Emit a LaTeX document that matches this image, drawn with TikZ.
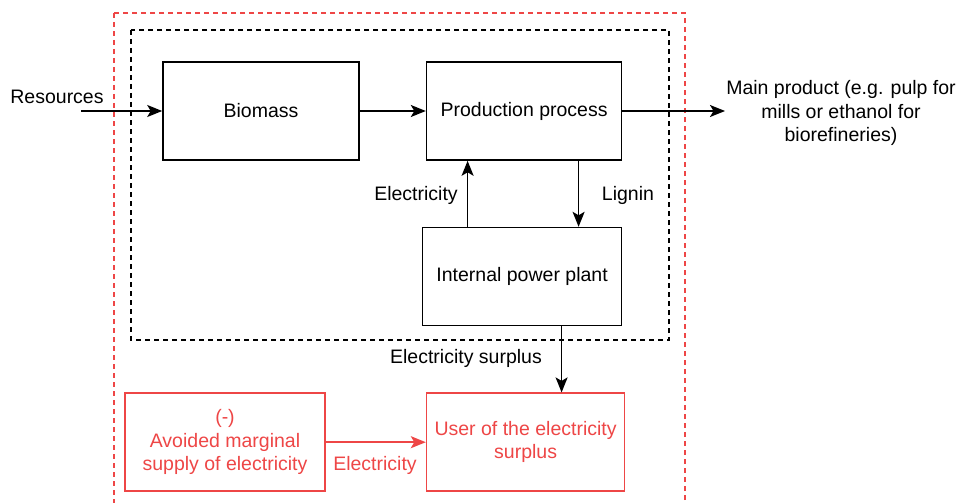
\documentclass[tikz,border=0pt]{standalone}
\usepackage{fontspec}
\setmainfont{Liberation Sans}
\usetikzlibrary{arrows.meta,positioning,calc}
\definecolor{sysRed}{RGB}{238,70,70}
\definecolor{sysBlack}{RGB}{0,0,0}
\tikzset{
  box/.style={draw=sysBlack, line width=1.6pt, fill=white, align=center, inner sep=2pt,
              minimum width=196pt, minimum height=98pt, font=\fontsize{19.5}{23.5}\selectfont},
  redbox/.style={box, draw=sysRed, text=sysRed},
  lbl/.style={align=center, inner sep=1pt, font=\fontsize{19.5}{23.5}\selectfont},
  redlbl/.style={lbl, text=sysRed},
  arrow/.style={-{Stealth[length=15pt,width=12pt,inset=3.5pt]}, line width=1.6pt, draw=sysBlack},
  redarrow/.style={arrow, draw=sysRed, fill=sysRed},
  border/.style={dash pattern=on 5pt off 4pt, line width=1.5pt}
}
\begin{document}
\begin{tikzpicture}[x=1pt, y=1pt]
\useasboundingbox (0,0) rectangle (967,-503);
% system borders
\draw[border, draw=sysRed] (114,-13) rectangle (685,-520);
\draw[border, draw=sysBlack] (131,-30) rectangle (669,-340);
% process chain
\node[box] (biomass) at (261,-111) {Biomass};
\node[box, right=66pt of biomass, minimum width=195pt] (prod) {Production process};
\node[box, below=66pt of prod, xshift=-2pt, minimum width=199pt] (power) {Internal power plant};
\node[redbox, below=66pt of power, xshift=3.5pt, minimum width=198pt] (user) {User of the electricity\\surplus};
\node[redbox, left=100pt of user, minimum width=200pt] (avoided) {(-)\\Avoided marginal\\supply of electricity};
% free ends
\coordinate (res) at (81,-111);
\coordinate (out) at (725,-111);
% labels
\node[lbl] (reslbl) at (57,-97) {Resources};
\node[lbl] (outlbl) at (841,-113) {Main product (e.g. pulp for\\mills or ethanol for\\biorefineries)};
\node[lbl] (eleclbl) at (416,-195) {Electricity};
\node[lbl] (ligninlbl) at (628,-195) {Lignin};
\node[lbl] (surpluslbl) at (466,-358) {Electricity surplus};
\node[redlbl] (redelec) at (375,-465) {Electricity};
% flows
\draw[arrow] (res) -- (biomass);
\draw[arrow] (biomass) -- (prod);
\draw[arrow] (prod) -- (out);
\draw[arrow] ([xshift=-54.5pt]power.north) -- ([xshift=-54.5pt]power.north |- prod.south);
\draw[arrow] ([xshift=54.5pt]prod.south) -- ([xshift=54.5pt]prod.south |- power.north);
\draw[arrow] ([xshift=39.5pt]power.south) -- ([xshift=39.5pt]power.south |- user.north);
\draw[redarrow] (avoided) -- (user);
\end{tikzpicture}
\end{document}
